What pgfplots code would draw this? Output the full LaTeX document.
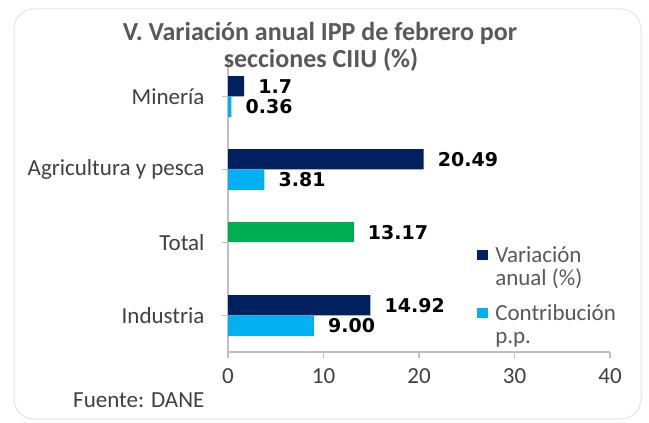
\documentclass[border=0pt]{standalone}
\usepackage{fontspec}
\setmainfont{Carlito}
\newfontfamily\dejavu{DejaVu Sans}
\usepackage{pgfplots}
\pgfplotsset{compat=1.18}
\definecolor{navy}{HTML}{002060}
\definecolor{lblue}{HTML}{00B0F0}
\definecolor{grn}{HTML}{00B050}
\definecolor{titlegray}{HTML}{595959}
\definecolor{txtgray}{HTML}{404040}
\definecolor{axgray}{HTML}{BFBFBF}
\begin{document}
\begin{tikzpicture}
\useasboundingbox (0,0) rectangle (649bp,423bp);
\fill[white] (0,0) rectangle (649bp,423bp);
\draw[black!10, line width=1bp, rounded corners=20bp] (14bp,4bp) rectangle (641bp,414bp);
\begin{axis}[
  at={(228bp,71bp)}, anchor=south west,
  scale only axis, width=382bp, height=292bp,
  xmin=0, xmax=40, ymin=-0.5, ymax=3.5,
  xbar, bar width=0.28,
  axis x line*=bottom, axis y line*=left,
  axis line style={axgray, line width=1.2bp, -},
  xtick={0,10,20,30,40},
  ytick={0,1,2,3},
  yticklabels={Industria,Total,Agricultura y pesca,Minería},
  tick style={axgray, line width=1.2bp},
  major tick length=6bp,
  tick align=outside,
  /pgf/number format/assume math mode=true,
  ticklabel style={font=\fontsize{23bp}{25bp}\selectfont, text=txtgray},
  yticklabel style={xshift=-14bp},
  xticklabel style={yshift=-7bp},
  point meta=explicit symbolic,
  nodes near coords={\pgfplotspointmeta},
  nodes near coords style={anchor=west, inner sep=0pt, xshift=14bp,
    font=\fontsize{19bp}{21bp}\dejavu\bfseries, text=black},
  legend style={at={(axis description cs:0.652,0.369)}, anchor=north west,
    draw=none, fill=none, inner sep=0pt, row sep=14bp,
    font=\fontsize{23bp}{23bp}\selectfont, text=titlegray,
    cells={align=left, anchor=west},
    /tikz/every odd column/.append style={column sep=5bp}},
]
\addplot[fill=navy, draw=none, bar shift=0.14,
  legend image code/.code={\fill[navy] (0bp,7bp) rectangle (11bp,17bp);}]
  coordinates {(14.92,0)[14.92] (20.49,2)[20.49] (1.7,3)[1.7]};
\addlegendentry{Variación\\anual (\%)}
\addplot[fill=lblue, draw=none, bar shift=-0.14,
  legend image code/.code={\fill[lblue] (0bp,7bp) rectangle (11bp,17bp);}]
  coordinates {(9.00,0)[9.00] (3.81,2)[3.81] (0.36,3)[0.36]};
\addlegendentry{Contribución\\p.p.}
\addplot[fill=grn, draw=none, bar shift=0.14, forget plot]
  coordinates {(13.17,1)[13.17]};
\end{axis}
\node[anchor=base, inner sep=0pt, text=titlegray, font=\fontsize{26bp}{28bp}\selectfont\bfseries] at (320bp,382bp) {V. Variación anual IPP de febrero por};
\node[anchor=base, inner sep=0pt, text=titlegray, font=\fontsize{26bp}{28bp}\selectfont\bfseries] at (321bp,355bp) {secciones CIIU (\%)};
\node[anchor=base west, inner sep=0pt, text=txtgray, font=\fontsize{23bp}{25bp}\selectfont] at (73bp,16bp) {Fuente: DANE};
\end{tikzpicture}
\end{document}
